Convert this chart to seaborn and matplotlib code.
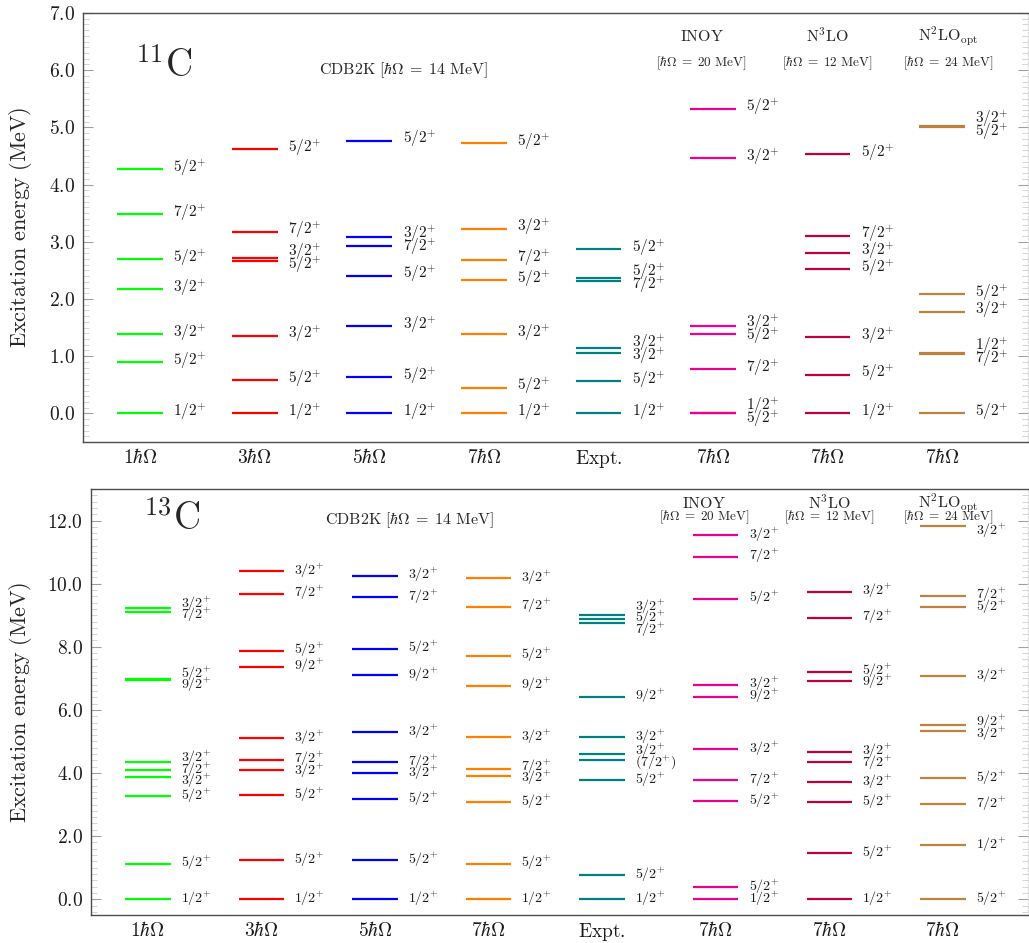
import numpy as np
import pandas as pd
import matplotlib
matplotlib.use("Agg")
import matplotlib.pyplot as plt
from matplotlib.ticker import MultipleLocator, FuncFormatter
from matplotlib.transforms import blended_transform_factory, offset_copy
import seaborn as sns

# ---------------------------------------------------------------- data
columns = ["1hw", "3hw", "5hw", "7hw", "Expt", "INOY", "N3LO", "N2LOopt"]
tick_labels = [r"$1\hbar\Omega$", r"$3\hbar\Omega$", r"$5\hbar\Omega$",
               r"$7\hbar\Omega$", r"$\mathrm{Expt.}$", r"$7\hbar\Omega$",
               r"$7\hbar\Omega$", r"$7\hbar\Omega$"]
colors = ["#00ff00", "#ff0000", "#0000ff", "#ff8000",
          "#008080", "#ec008c", "#bf0040", "#bf8040"]

# 11C positive-parity levels (MeV) and spins
c11_1hw_E = [0.00, 0.90, 1.39, 2.17, 2.70, 3.48, 4.27]
c11_1hw_J = ["1/2", "5/2", "3/2", "3/2", "5/2", "7/2", "5/2"]
c11_3hw_E = [0.00, 0.58, 1.36, 2.66, 2.71, 3.18, 4.62]
c11_3hw_J = ["1/2", "5/2", "3/2", "5/2", "3/2", "7/2", "5/2"]
c11_5hw_E = [0.00, 0.63, 1.52, 2.41, 2.92, 3.09, 4.77]
c11_5hw_J = ["1/2", "5/2", "3/2", "5/2", "7/2", "3/2", "5/2"]
c11_7hw_E = [0.00, 0.45, 1.38, 2.33, 2.69, 3.23, 4.72]
c11_7hw_J = ["1/2", "5/2", "3/2", "5/2", "7/2", "3/2", "5/2"]
c11_expt_E = [0.00, 0.56, 1.05, 1.15, 2.31, 2.36, 2.87]
c11_expt_J = ["1/2", "5/2", "3/2", "3/2", "7/2", "5/2", "5/2"]
c11_inoy_E = [0.00, 0.00, 0.77, 1.38, 1.52, 4.46, 5.33]
c11_inoy_J = ["5/2", "1/2", "7/2", "5/2", "3/2", "3/2", "5/2"]
c11_n3lo_E = [0.00, 0.68, 1.33, 2.52, 2.81, 3.11, 4.53]
c11_n3lo_J = ["1/2", "5/2", "3/2", "5/2", "3/2", "7/2", "5/2"]
c11_n2lo_E = [0.00, 1.03, 1.06, 1.78, 2.08, 5.00, 5.03]
c11_n2lo_J = ["5/2", "7/2", "1/2", "3/2", "5/2", "5/2", "3/2"]

# 13C positive-parity levels (MeV) and spins
c13_1hw_E = [0.00, 1.12, 3.26, 3.86, 4.09, 4.34, 6.94, 6.97, 9.11, 9.24]
c13_1hw_J = ["1/2", "5/2", "5/2", "3/2", "7/2", "3/2", "9/2", "5/2", "7/2", "3/2"]
c13_3hw_E = [0.00, 1.24, 3.30, 4.09, 4.40, 5.10, 7.37, 7.88, 9.68, 10.40]
c13_3hw_J = ["1/2", "5/2", "5/2", "3/2", "7/2", "3/2", "9/2", "5/2", "7/2", "3/2"]
c13_5hw_E = [0.00, 1.24, 3.17, 3.99, 4.34, 5.29, 7.09, 7.94, 9.58, 10.25]
c13_5hw_J = ["1/2", "5/2", "5/2", "3/2", "7/2", "3/2", "9/2", "5/2", "7/2", "3/2"]
c13_7hw_E = [0.00, 1.12, 3.07, 3.90, 4.12, 5.13, 6.77, 7.72, 9.27, 10.18]
c13_7hw_J = ["1/2", "5/2", "5/2", "3/2", "7/2", "3/2", "9/2", "5/2", "7/2", "3/2"]
c13_expt_E = [0.00, 0.77, 3.77, 4.40, 4.59, 5.13, 6.42, 8.76, 8.89, 9.01]
c13_expt_J = ["1/2", "5/2", "5/2", "(7/2)", "3/2", "3/2", "9/2", "7/2", "5/2", "3/2"]
c13_inoy_E = [0.00, 0.39, 3.11, 3.77, 4.75, 6.42, 6.80, 9.52, 10.85, 11.54]
c13_inoy_J = ["1/2", "5/2", "5/2", "7/2", "3/2", "9/2", "3/2", "5/2", "7/2", "3/2"]
c13_n3lo_E = [0.00, 1.46, 3.07, 3.71, 4.34, 4.65, 6.90, 7.21, 8.92, 9.74]
c13_n3lo_J = ["1/2", "5/2", "5/2", "3/2", "7/2", "3/2", "9/2", "5/2", "7/2", "3/2"]
c13_n2lo_E = [0.00, 1.72, 3.01, 3.83, 5.32, 5.51, 7.06, 9.27, 9.61, 11.83]
c13_n2lo_J = ["5/2", "1/2", "7/2", "5/2", "3/2", "9/2", "3/2", "5/2", "7/2", "3/2"]

c11_levels = [(c11_1hw_E, c11_1hw_J), (c11_3hw_E, c11_3hw_J),
              (c11_5hw_E, c11_5hw_J), (c11_7hw_E, c11_7hw_J),
              (c11_expt_E, c11_expt_J), (c11_inoy_E, c11_inoy_J),
              (c11_n3lo_E, c11_n3lo_J), (c11_n2lo_E, c11_n2lo_J)]
c13_levels = [(c13_1hw_E, c13_1hw_J), (c13_3hw_E, c13_3hw_J),
              (c13_5hw_E, c13_5hw_J), (c13_7hw_E, c13_7hw_J),
              (c13_expt_E, c13_expt_J), (c13_inoy_E, c13_inoy_J),
              (c13_n3lo_E, c13_n3lo_J), (c13_n2lo_E, c13_n2lo_J)]

# ---------------------------------------------------------------- style
sns.set_style("ticks")
plt.rcParams.update({
    "mathtext.fontset": "cm",
    "font.family": ["DejaVu Serif"],
    "axes.edgecolor": "#4d4d4d",
    "axes.linewidth": 1.0,
    "xtick.color": "#1a1a1a",
    "ytick.color": "#1a1a1a",
})

HALF = 0.2       # half-length of a level bar (x units)
LABEL_DX = 0.29  # spin label offset from the column centre


def spin_text(j):
    if j.startswith("("):
        return r"$%s^{+})$" % j[:-1]
    return r"$%s^{+}$" % j


def spread(values, gap, ceiling=None):
    """Push label positions apart so neighbours are at least `gap` apart."""
    vals = np.asarray(values, float)
    order = np.argsort(vals, kind="stable")
    pos = vals[order].copy()
    for _ in range(1000):
        moved = False
        if ceiling is not None and pos[-1] > ceiling:
            pos[-1] = ceiling
            moved = True
        for i in range(len(pos) - 1):
            d = pos[i + 1] - pos[i]
            if d < gap - 1e-9:
                s = (gap - d) / 2
                pos[i] -= s
                pos[i + 1] += s
                moved = True
        if not moved:
            break
    out = np.empty_like(pos)
    out[order] = pos
    return out


def level_frame(levels):
    rows = []
    lid = 0
    for ci, (energies, _) in enumerate(levels):
        for e in energies:
            for x in (ci - HALF, ci + HALF):
                rows.append({"col": columns[ci], "x": x, "E": e, "lid": lid})
            lid += 1
    return pd.DataFrame(rows)


def draw_panel(ax, levels, ylim, major, minor, gap, ceiling, label_fs):
    df = level_frame(levels)
    sns.lineplot(data=df, x="x", y="E", hue="col", hue_order=columns,
                 palette=colors, units="lid", estimator=None, sort=False,
                 legend=False, linewidth=1.6, ax=ax,
                 solid_capstyle="butt")
    lift = offset_copy(ax.transData, fig=ax.figure, y=1.0, units="points")
    for ci, (energies, spins) in enumerate(levels):
        ys = spread(energies, gap, ceiling)
        for y, j in zip(ys, spins):
            ax.text(ci + LABEL_DX, y, spin_text(j), fontsize=label_fs,
                    ha="left", va="center", color="#1a1a1a", transform=lift)
    ax.set_xlim(-0.5, 7.75)
    ax.set_ylim(*ylim)
    ax.set_xticks(range(len(columns)))
    ax.set_xticklabels(tick_labels, fontsize=14)
    ax.tick_params(axis="x", length=0, pad=4)
    ax.yaxis.set_major_locator(MultipleLocator(major))
    ax.yaxis.set_minor_locator(MultipleLocator(minor))
    ax.yaxis.set_major_formatter(FuncFormatter(lambda v, p: r"$%.1f$" % v))
    ax.tick_params(axis="y", which="major", direction="in", length=7,
                   width=0.8, color="#a0a0a0", labelsize=14, pad=6,
                   left=True, right=True)
    ax.tick_params(axis="y", which="minor", direction="in", length=4,
                   width=0.6, color="#cfcfcf", left=True, right=True)
    ax.spines["right"].set_color("#d9d9d9")
    ax.spines["right"].set_linestyle(":")
    ax.set_xlabel("")
    ax.set_ylabel(r"$\mathrm{Excitation\ energy\ (MeV)}$", fontsize=16)


fig = plt.figure(figsize=(10.29, 9.43), dpi=100)
ax1 = fig.add_axes([83 / 1029, 1 - 442 / 943, 945 / 1029, 429 / 943])
ax2 = fig.add_axes([91 / 1029, 1 - 915 / 943, 937 / 1029, 426 / 943])

draw_panel(ax1, c11_levels, (-0.5, 7.0), 1.0, 0.1, 0.23, None, 11)
draw_panel(ax2, c13_levels, (-0.5, 13.0), 2.0, 0.2, 0.36, 11.65, 10)

ax1.yaxis.set_label_coords(-0.052, 0.5)
ax2.yaxis.set_label_coords(-0.061, 0.5)

# nucleus names
ax1.text(0.085, 0.874, r"$^{11}\mathrm{C}$", transform=ax1.transAxes,
         fontsize=27, ha="center", va="center")
ax2.text(0.086, 0.927, r"$^{13}\mathrm{C}$", transform=ax2.transAxes,
         fontsize=27, ha="center", va="center")

# interaction headers
cdb = r"$\mathrm{CDB2K}\ [\hbar\Omega\;=\;14\ \mathrm{MeV}]$"
heads = [(4.9, r"$\mathrm{INOY}$", r"$[\hbar\Omega\;=\;20\ \mathrm{MeV}]$"),
         (6.0, r"$\mathrm{N^{3}LO}$", r"$[\hbar\Omega\;=\;12\ \mathrm{MeV}]$"),
         (7.05, r"$\mathrm{N^{2}LO_{opt}}$", r"$[\hbar\Omega\;=\;24\ \mathrm{MeV}]$")]

for ax, y_cdb, y_name, y_hw in [(ax1, 0.867, 0.946, 0.883),
                                (ax2, 0.927, 0.967, 0.934)]:
    tr = blended_transform_factory(ax.transData, ax.transAxes)
    ax.text(2.3, y_cdb, cdb, transform=tr, fontsize=11.5,
            ha="center", va="center")
    for x, name, hw in heads:
        ax.text(x, y_name, name, transform=tr, fontsize=11.5,
                ha="center", va="center")
        ax.text(x, y_hw, hw, transform=tr, fontsize=9.5,
                ha="center", va="center")

fig.savefig("out.png", dpi=100)
